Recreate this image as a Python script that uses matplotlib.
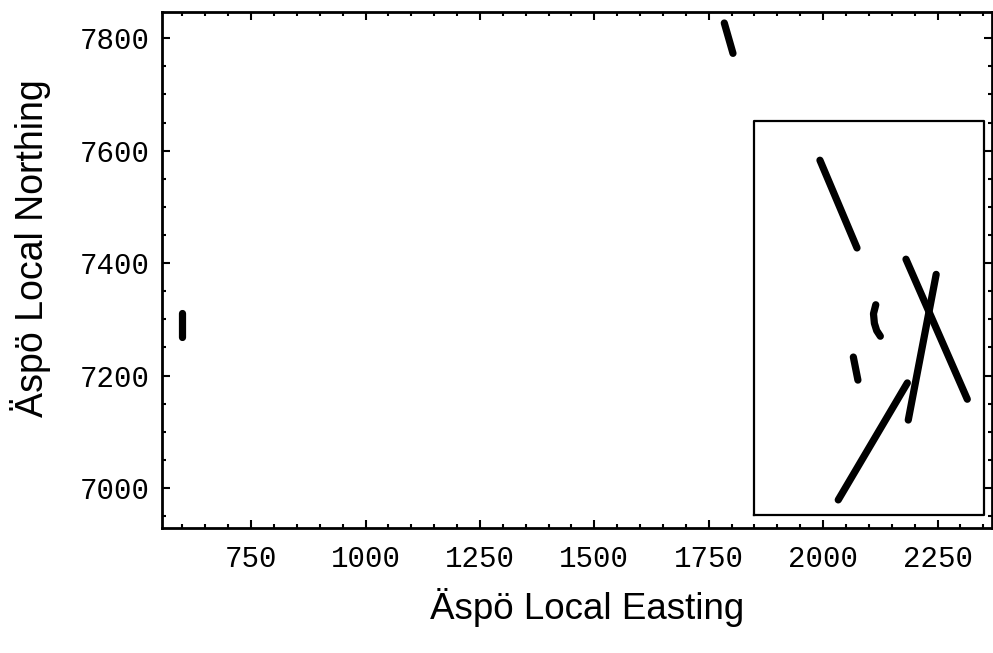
import matplotlib.pyplot as plt
from matplotlib.ticker import MultipleLocator

# fracture traces, easting / northing
trace_e = [
    [599, 599],
    [1784, 1803],
    [1993, 2074],
    [2181, 2315],
    [2247, 2186],
    [2033, 2184],
    [2115, 2110, 2112, 2117, 2125],
    [2066, 2076],
]
trace_n = [
    [7311, 7268],
    [7827, 7773],
    [7583, 7427],
    [7407, 7158],
    [7380, 7121],
    [6979, 7187],
    [7326, 7310, 7293, 7280, 7270],
    [7233, 7192],
]

# box around the cluster of traces
box_e = [1849, 2352, 2352, 1849, 1849]
box_n = [6952, 6952, 7652, 7652, 6952]

x_ticks = [750, 1000, 1250, 1500, 1750, 2000, 2250]
y_ticks = [7000, 7200, 7400, 7600, 7800]

fig = plt.figure(figsize=(9.93, 6.53), dpi=100)
ax = fig.add_axes([0.163, 0.1914, 0.836, 0.7906])

for e, n in zip(trace_e, trace_n):
    ax.plot(e, n, color='black', lw=5.2, solid_capstyle='round',
            solid_joinstyle='round')

ax.plot(box_e, box_n, color='black', lw=1.6)

ax.set_xlim(555, 2369)
ax.set_ylim(6929, 7847)
ax.set_xticks(x_ticks)
ax.set_yticks(y_ticks)
ax.xaxis.set_minor_locator(MultipleLocator(50))
ax.yaxis.set_minor_locator(MultipleLocator(50))

ax.tick_params(which='both', direction='in', top=True, right=True, width=1.5)
ax.tick_params(which='major', length=6)
ax.tick_params(which='minor', length=3)
ax.tick_params(axis='x', pad=12)
ax.tick_params(axis='y', pad=9)
for lab in ax.get_xticklabels() + ax.get_yticklabels():
    lab.set_family('Liberation Mono')
    lab.set_fontsize(21)

for s in ax.spines.values():
    s.set_linewidth(2)

ax.set_xlabel('Äspö Local Easting', fontsize=26.5, family='Liberation Sans', va='center')
ax.set_ylabel('Äspö Local Northing', fontsize=27, family='Liberation Sans', va='center')
ax.xaxis.set_label_coords(0.512, -0.153)
ax.yaxis.set_label_coords(-0.1586, 0.542)

fig.savefig('out.png', dpi=100)
